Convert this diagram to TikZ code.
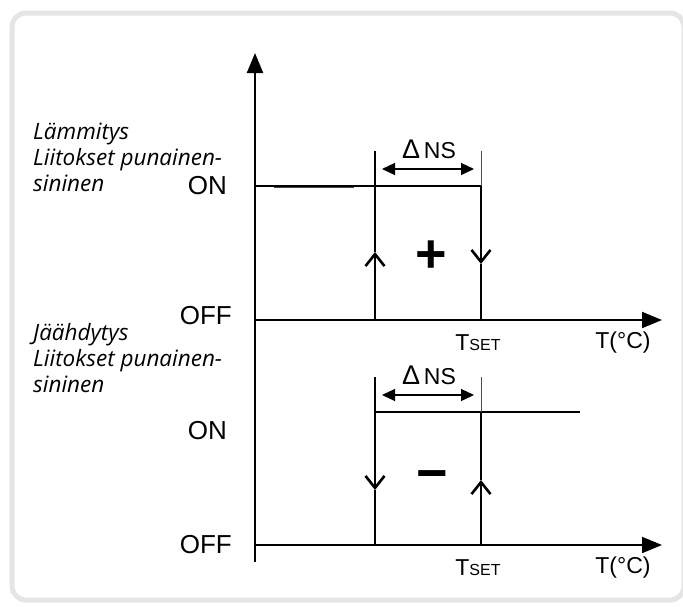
\documentclass[tikz,border=0pt]{standalone}
\usepackage{fontspec}
\setmainfont{Liberation Sans}
\newfontfamily\notefont{Open Sans}
\usetikzlibrary{arrows.meta}

\begin{document}
\begin{tikzpicture}[%
    x=1pt,
    y=-1pt,
    axis/.style={
      draw=black,
      line width=2pt,
      -{Triangle[length=20pt,width=16pt]}
    },
    level/.style={
      draw=black,
      line width=1.5pt
    },
    tickline/.style={
      draw=black!70,
      line width=1pt
    },
    flip/.style={
      draw=black,
      line width=1.5pt,
      -{Straight Barb[length=12pt,width=19pt,line width=2.6pt]}
    },
    span/.style={
      draw=black,
      line width=1.2pt,
      {Triangle[length=13pt,width=12pt]}-{Triangle[length=13pt,width=12pt]}
    },
    state/.style={
      font=\fontsize{26}{26}\selectfont,
      anchor=east,
      inner sep=0pt
    },
    note/.style={
      font=\notefont\itshape\fontsize{22.5}{26}\selectfont,
      align=left,
      anchor=north west,
      inner sep=0pt
    },
    tlabel/.style={
      font=\fontsize{23}{23}\selectfont,
      inner sep=0pt
    },
    sign/.style={
      font=\bfseries\fontsize{54}{54}\selectfont,
      inner sep=0pt
    }
  ]
    % frame
    \useasboundingbox (0,0) rectangle (683,606);
    \draw[draw=black!10, line width=5pt, rounded corners=14pt] (12,13) rectangle (684,600);

    % axes
    \coordinate (ytop) at (255,53);
    \coordinate (ybot) at (255,562);
    \coordinate (O1) at (255,320);
    \coordinate (O2) at (255,545);
    \coordinate (x1) at (662,320);
    \coordinate (x2) at (662,545);
    \draw[axis] (ybot) -- (ytop);
    \draw[axis] (O1) -- (x1);
    \draw[axis] (O2) -- (x2);

    % heating
    \coordinate (on1) at (255,186);
    \coordinate (a1) at (375,186);
    \coordinate (b1) at (481,186);
    \coordinate (a1off) at (375,320);
    \coordinate (b1off) at (481,320);
    \coordinate (a1top) at (375,151);
    \coordinate (b1top) at (481,151);
    \coordinate (a1mid) at (375,252);
    \coordinate (b1mid) at (481,264);
    \coordinate (s1) at (274,187);
    \coordinate (s2) at (354,187);
    \draw[draw=black!75, line width=2.4pt] (s1) -- (s2);
    \draw[level] (on1) -- (b1);
    \draw[flip] (a1off) -- (a1mid);
    \draw[level] (a1mid) -- (a1top);
    \draw[flip] (b1) -- (b1mid);
    \draw[level] (b1mid) -- (b1off);
    \draw[tickline] (b1) -- (b1top);
    \coordinate (d1l) at (382,169);
    \coordinate (d1r) at (474,169);
    \draw[span] (d1l) -- (d1r);
    \node[tlabel, anchor=base] (dns1) at (429,158) {{\fontsize{27}{27}\selectfont Δ}\,NS};
    \node[sign] (plus) at (431,257) {+};

    % cooling
    \coordinate (a2) at (375,412);
    \coordinate (b2) at (481,412);
    \coordinate (on2) at (580,412);
    \coordinate (a2top) at (375,377);
    \coordinate (b2top) at (481,377);
    \coordinate (a2off) at (375,545);
    \coordinate (b2off) at (481,545);
    \coordinate (a2mid) at (375,490);
    \coordinate (b2mid) at (481,480);
    \draw[level] (a2) -- (on2);
    \draw[flip] (a2) -- (a2mid);
    \draw[level] (a2mid) -- (a2off);
    \draw[level] (a2) -- (a2top);
    \draw[flip] (b2off) -- (b2mid);
    \draw[level] (b2mid) -- (b2);
    \draw[tickline] (b2) -- (b2top);
    \coordinate (d2l) at (382,395);
    \coordinate (d2r) at (474,395);
    \draw[span] (d2l) -- (d2r);
    \node[tlabel, anchor=base] (dns2) at (429,384) {{\fontsize{27}{27}\selectfont Δ}\,NS};
    \node[sign] (minus) at (432,481) {−};

    % labels
    \node[state] (on1lbl) at (227,186) {ON};
    \node[state] (off1lbl) at (232,316) {OFF};
    \node[state] (on2lbl) at (227,431) {ON};
    \node[state] (off2lbl) at (232,545) {OFF};
    \node[tlabel] (tset1) at (478,343) {T{\fontsize{16}{16}\selectfont SET}};
    \node[tlabel] (tset2) at (478,568) {T{\fontsize{16}{16}\selectfont SET}};
    \node[tlabel] (temp1) at (623,343) {T(°C)};
    \node[tlabel] (temp2) at (623,568) {T(°C)};
    \node[note] (heat) at (33,123) {Lämmitys\\Liitokset punainen-\\sininen};
    \node[note] (cool) at (33,323) {Jäähdytys\\Liitokset punainen-\\sininen};
\end{tikzpicture}
\end{document}
